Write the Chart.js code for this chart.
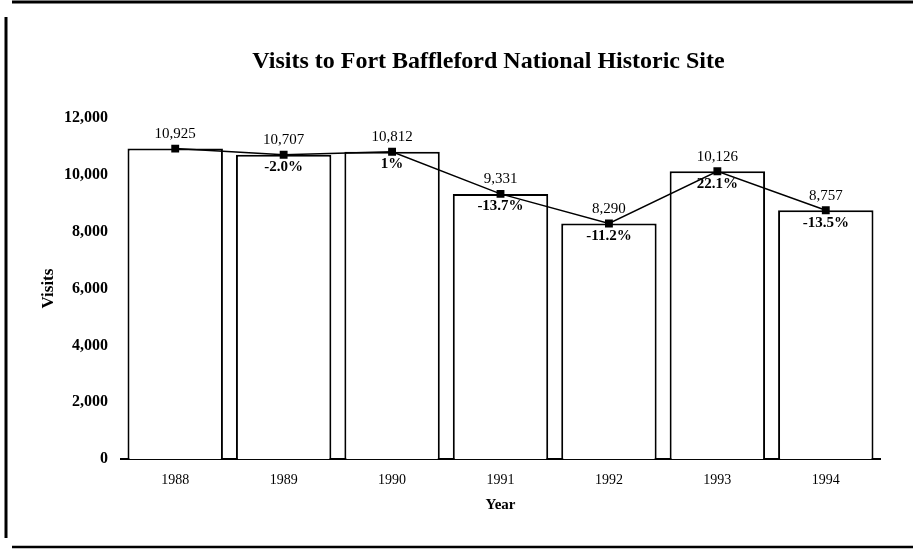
<!DOCTYPE html>
<html>
<head>
<meta charset="utf-8">
<script src="https://cdn.jsdelivr.net/npm/chart.js@4"></script>
<style>
  html, body { margin: 0; padding: 0; background: #fff; }
  #wrap { width: 913px; height: 552px; position: relative; }
</style>
</head>
<body>
<div id="wrap"><canvas id="myChart" width="913" height="552"></canvas></div>
<script>
// data
const years = ['1988', '1989', '1990', '1991', '1992', '1993', '1994'];
const visits = [10925, 10707, 10812, 9331, 8290, 10126, 8757];
const changes = ['', '-2.0%', '1%', '-13.7%', '-11.2%', '22.1%', '-13.5%'];
const chartTitle = 'Visits to Fort Baffleford National Historic Site';

const serif = '"Liberation Serif", "DejaVu Serif", serif';

// value above each point, percent change below it
const pointLabels = {
    id: 'pointLabels',
    afterDatasetsDraw(chart) {
        const ctx = chart.ctx;
        const meta = chart.getDatasetMeta(1);
        ctx.save();
        ctx.fillStyle = '#000';
        ctx.textAlign = 'center';
        meta.data.forEach((pt, i) => {
            ctx.font = '15px ' + serif;
            ctx.textBaseline = 'bottom';
            ctx.fillText(visits[i].toLocaleString('en-US'), pt.x, pt.y - 7);
            if (changes[i]) {
                ctx.font = 'bold 15px ' + serif;
                ctx.textBaseline = 'top';
                ctx.fillText(changes[i], pt.x, pt.y + 5);
            }
        });
        ctx.restore();
    }
};

// title over the plot, plus the page frame around the chart
const frame = {
    id: 'frame',
    afterDraw(chart) {
        const ctx = chart.ctx;
        const area = chart.chartArea;
        ctx.save();
        ctx.fillStyle = '#000';
        ctx.font = 'bold 24px ' + serif;
        ctx.textAlign = 'center';
        ctx.textBaseline = 'middle';
        ctx.fillText(chartTitle, (area.left + area.right) / 2 - 12, 62);

        ctx.strokeStyle = '#000';
        ctx.lineWidth = 3;
        ctx.beginPath();
        ctx.moveTo(12, 2); ctx.lineTo(913, 2);
        ctx.moveTo(6, 17); ctx.lineTo(6, 538);
        ctx.stroke();
        ctx.lineWidth = 2.5;
        ctx.beginPath();
        ctx.moveTo(12, 547); ctx.lineTo(913, 547);
        ctx.stroke();
        ctx.restore();
    }
};

const ctx = document.getElementById('myChart');
new Chart(ctx, {
    data: {
        labels: years,
        datasets: [{
            type: 'bar',
            label: 'Visits',
            data: visits,
            backgroundColor: '#fff',
            borderColor: '#000',
            borderWidth: { top: 2, left: 2, right: 2, bottom: 0 },
            barPercentage: 0.88,
            categoryPercentage: 1,
            order: 2
        }, {
            type: 'line',
            label: 'Trend',
            data: visits,
            borderColor: '#000',
            borderWidth: 1.5,
            backgroundColor: '#000',
            pointStyle: 'rect',
            pointRadius: 4.5,
            tension: 0,
            order: 1
        }]
    },
    options: {
        responsive: false,
        animation: false,
        layout: { padding: { top: 118, left: 38, right: 33, bottom: 38 } },
        plugins: {
            legend: { display: false },
            tooltip: { enabled: false },
            title: { display: false }
        },
        scales: {
            x: {
                grid: { display: false },
                border: { display: true, color: '#000', width: 2 },
                ticks: { color: '#000', font: { family: serif, size: 14 }, padding: 5 },
                title: {
                    display: true,
                    text: 'Year',
                    color: '#000',
                    font: { family: serif, size: 15, weight: 'bold' },
                    padding: { top: 2, bottom: 0 }
                }
            },
            y: {
                min: 0,
                max: 12000,
                grid: { display: false },
                border: { display: false },
                afterFit: scale => { scale.width = 83; },
                ticks: {
                    stepSize: 2000,
                    color: '#000',
                    padding: 5,
                    font: { family: serif, size: 16, weight: 'bold' },
                    callback: v => v.toLocaleString('en-US')
                },
                title: {
                    display: true,
                    text: 'Visits',
                    color: '#000',
                    font: { family: serif, size: 17, weight: 'bold' },
                    padding: { top: 0, bottom: 9 }
                }
            }
        }
    },
    plugins: [pointLabels, frame]
});
</script>
</body>
</html>
